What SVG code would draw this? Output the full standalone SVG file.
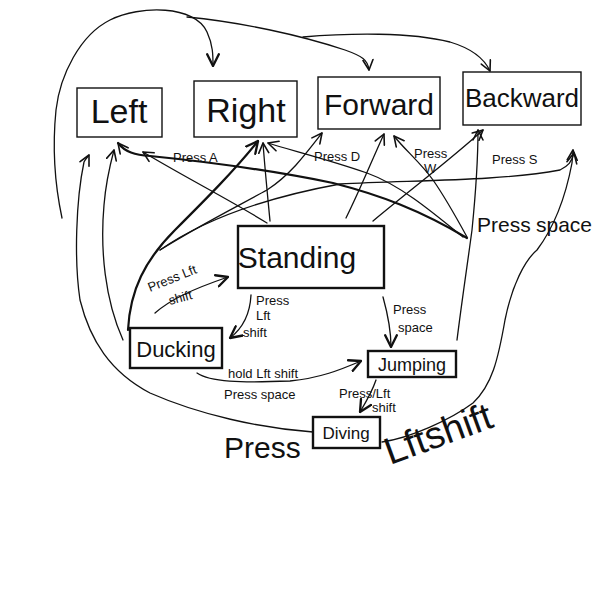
<svg xmlns="http://www.w3.org/2000/svg" width="600" height="600" viewBox="0 0 600 600">
<defs>
<style>
.box{fill:none;stroke:#111;stroke-width:1.4}
.sbox{fill:none;stroke:#111;stroke-width:2.4}
.t{font-family:"Liberation Sans","DejaVu Sans",sans-serif;fill:#111}
.c{fill:none;stroke:#111;stroke-width:1.3;stroke-linecap:round;stroke-linejoin:round}
.ck{fill:none;stroke:#111;stroke-width:2.2;stroke-linecap:round;stroke-linejoin:round}
.lbl{font-family:"Liberation Sans","DejaVu Sans",sans-serif;fill:#111;font-size:13px}
</style>
<marker id="ah" viewBox="0 0 12 12" refX="11" refY="6" markerWidth="12" markerHeight="12" markerUnits="userSpaceOnUse" orient="auto">
<path d="M1,1 L11,6 L1,11" fill="none" stroke="#111" stroke-width="1.6" stroke-linecap="round" stroke-linejoin="round"/>
</marker>
<marker id="ahb" viewBox="0 0 12 12" refX="11" refY="6" markerWidth="14" markerHeight="14" markerUnits="userSpaceOnUse" orient="auto">
<path d="M1,1 L11,6 L1,11" fill="none" stroke="#111" stroke-width="2" stroke-linecap="round" stroke-linejoin="round"/>
</marker>
</defs>
<rect width="600" height="600" fill="#fff"/>

<g id="connectors">
<path class="c" d="M62,218 C56,190 52,150 56,110 C60,75 80,35 110,20 C140,5 195,5 207,32 C213,45 213,55 213,66" marker-end="url(#ahb)"/>
<path class="c" d="M187,17 C240,22 300,35 345,50 C362,56 368,60 369,70" marker-end="url(#ah)"/>
<path class="c" d="M303,37 C350,33 410,32 450,42 C470,48 484,58 490,71" marker-end="url(#ah)"/>
<path class="c" d="M267,223 C230,200 190,180 143,152" marker-end="url(#ah)"/>
<path class="c" d="M270,221 C268,200 265,170 263,143" marker-end="url(#ah)"/>
<path class="c" d="M346,218 C360,190 372,160 384,134" marker-end="url(#ah)"/>
<path class="c" d="M373,221 C410,190 450,160 483,130" marker-end="url(#ah)"/>
<path class="ck" d="M467,238 C420,210 380,195 333,183 C260,168 190,160 150,156 C135,155 125,152 118,143" marker-end="url(#ah)"/>
<path class="c" d="M463,237 C430,210 400,185 367,173 C330,160 290,150 268,143" marker-end="url(#ah)"/>
<path class="c" d="M467,237 C455,215 440,190 433,180 C420,162 405,150 394,136" marker-end="url(#ah)"/>
<path class="ck" d="M128,330 C130,290 145,260 175,230 C205,200 235,170 258,141" marker-end="url(#ahb)"/>
<path class="c" d="M160,250 C200,225 240,205 267,190 C290,175 305,155 322,133" marker-end="url(#ah)"/>
<path class="c" d="M160,250 C210,215 280,195 340,184 C420,180 500,181 560,170 C568,166 572,162 574,153" marker-end="url(#ah)"/>
<path class="c" d="M123,340 C105,300 100,250 104,205 C106,180 110,165 114,150" marker-end="url(#ah)"/>
<path class="c" d="M313,432 C260,428 200,415 150,393 C110,372 90,340 80,300 C74,260 76,200 84,162 C86,158 88,157 89,155" marker-end="url(#ah)"/>
<path class="c" d="M382,442 C410,438 450,420 473,403 C492,385 498,360 505,320 C512,285 525,260 537,250 C552,230 565,200 572,163 L573,150" marker-end="url(#ah)"/>
<path class="c" d="M457,340 C462,300 468,260 472,230 C476,190 478,160 478,130" marker-end="url(#ah)"/>
<path class="c" d="M155,313 C170,300 190,290 228,277" marker-end="url(#ahb)"/>
<path class="c" d="M251,295 C250,315 243,328 230,338" marker-end="url(#ahb)"/>
<path class="c" d="M383,297 C388,315 391,330 391,347" marker-end="url(#ahb)"/>
<path class="c" d="M197,373 C210,382 240,383 290,381 C320,378 340,370 361,361" marker-end="url(#ahb)"/>
<path class="c" d="M376,380 C372,392 366,402 360,412" marker-end="url(#ahb)"/>
</g>

<g id="node-left">
<rect class="box" x="77" y="88" width="85" height="49"/>
<text class="t" x="119" y="123" font-size="34" text-anchor="middle">Left</text>
</g>
<g id="node-right">
<rect class="box" x="194" y="81" width="103" height="56"/>
<text class="t" x="246" y="122" font-size="34" text-anchor="middle">Right</text>
</g>
<g id="node-forward">
<rect class="box" x="318" y="77" width="122" height="52"/>
<text class="t" x="379" y="115" font-size="30" text-anchor="middle">Forward</text>
</g>
<g id="node-backward">
<rect class="box" x="463" y="72" width="118" height="53"/>
<text class="t" x="522" y="107" font-size="26" text-anchor="middle">Backward</text>
</g>
<g id="node-standing">
<rect class="sbox" x="238" y="226" width="146" height="62"/>
<text class="t" x="297" y="268" font-size="30" text-anchor="middle">Standing</text>
</g>
<g id="node-ducking">
<rect class="sbox" x="130" y="328" width="92" height="40"/>
<text class="t" x="176" y="357" font-size="22" text-anchor="middle">Ducking</text>
</g>
<g id="node-jumping">
<rect class="sbox" x="368" y="351" width="88" height="26"/>
<text class="t" x="412" y="371" font-size="18" text-anchor="middle">Jumping</text>
</g>
<g id="node-diving">
<rect class="sbox" x="313" y="417" width="67" height="31"/>
<text class="t" x="346" y="439" font-size="17" text-anchor="middle">Diving</text>
</g>

<g id="labels">
<text class="lbl" x="173" y="162">Press A</text>
<text class="lbl" x="314" y="161">Press D</text>
<text class="lbl" x="414" y="158" font-size="12">Press</text>
<text class="lbl" x="424" y="173">W</text>
<text class="lbl" x="492" y="164" font-size="15">Press S</text>
<text class="t" x="477" y="232" font-size="21">Press</text>
<text class="t" x="536" y="232" font-size="21">space</text>
<text class="lbl" x="150" y="292" transform="rotate(-22 150 292)">Press Lft</text>
<text class="lbl" x="170" y="305" transform="rotate(-15 170 305)">shift</text>
<text class="lbl" x="256" y="305">Press</text>
<text class="lbl" x="256" y="320">Lft</text>
<text class="lbl" x="243" y="337">shift</text>
<text class="lbl" x="393" y="314">Press</text>
<text class="lbl" x="398" y="332">space</text>
<text class="lbl" x="228" y="378" font-size="14">hold Lft shift</text>
<text class="lbl" x="224" y="399" font-size="14">Press space</text>
<text class="lbl" x="339" y="398">Press/Lft</text>
<text class="lbl" x="372" y="412">shift</text>
<text class="t" x="224" y="458" font-size="30">Press</text>
<text class="t" x="390" y="465" font-size="38" transform="rotate(-20 390 465)">Lftshift</text>
</g>
</svg>
